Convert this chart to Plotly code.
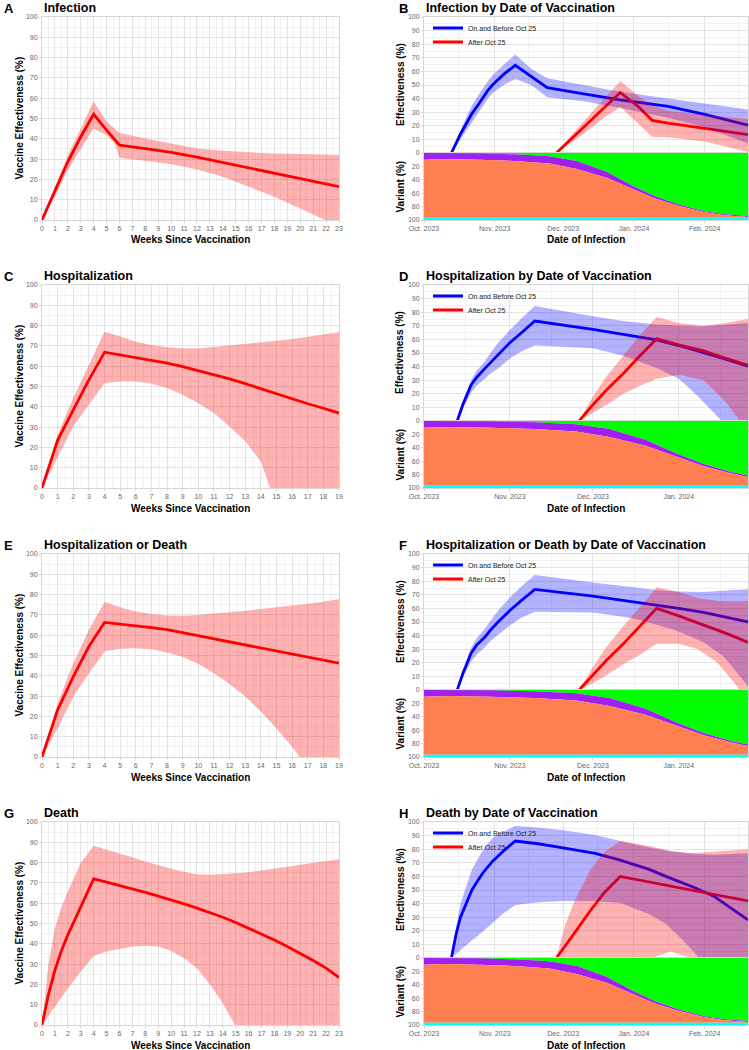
import plotly.graph_objects as go

FONT = "Liberation Sans, Arial, sans-serif"
W, H = 749, 1050

# ---------------- Left panels: weeks since vaccination ----------------
A_weeks = [0, 1, 2, 3, 4, 5, 5.6, 6, 8, 10, 12, 14, 16, 18, 20, 22, 23]
A_mid = [0, 14.8, 28.7, 41, 52.1, 44.3, 39.8, 36.9, 35.2, 33.3, 31, 28.4, 25.7, 23.1, 20.5, 17.7, 16.4]
A_hi = [0, 16.4, 32, 45, 58.5, 48.5, 45, 42.8, 40.2, 37.7, 35.2, 34.1, 33.3, 32.8, 32.5, 32.3, 32.1]
A_lo = [0, 11.5, 24.6, 35.2, 45.1, 41.8, 38, 30.5, 29.2, 27.5, 25, 21.3, 16.4, 11.5, 5.7, 0, -3.3]

C_weeks = [0, 1, 2, 3, 4, 5, 6, 7, 8, 9, 10, 11, 12, 13, 14, 15, 16, 17, 18, 19]
C_mid = [0, 23.5, 38.5, 53.3, 66.9, 65.6, 64.4, 63, 61.5, 59.8, 57.9, 55.9, 53.8, 51.4, 48.9, 46.4, 43.8, 41.5, 39.3, 36.9]
C_hi = [0, 26.2, 44.3, 60.7, 77, 74.6, 72.1, 70.5, 69.3, 68.9, 68.9, 69.5, 70.2, 70.9, 71.6, 72.5, 73.4, 74.4, 75.4, 76.7]
C_lo = [0, 14.8, 30.3, 41, 51.6, 52.5, 52.5, 51.5, 49.2, 45.9, 41.8, 36.9, 30.3, 23, 13.1, -9, -28, -50, -75, -100]

E_weeks = [0, 1, 2, 3, 4, 5, 6, 7, 8, 9, 10, 11, 12, 13, 14, 15, 16, 17, 18, 19]
E_mid = [0, 23.2, 39.6, 54.4, 66.3, 65.5, 64.6, 63.7, 62.7, 61.2, 59.7, 58.3, 56.9, 55.3, 53.6, 52.2, 50.7, 49.3, 47.9, 46.2]
E_hi = [0, 26.5, 46.2, 62.7, 76.3, 73.8, 71.7, 70.4, 69.7, 69.6, 69.9, 70.5, 71.2, 72, 72.9, 73.7, 74.5, 75.5, 76.5, 77.8]
E_lo = [0, 14.1, 29.8, 41.3, 52, 53.3, 53.6, 53.1, 51.5, 49.2, 45.9, 41.3, 36, 29.8, 22.4, 14.1, 5.1, -5, -16, -28]

G_weeks = [0, 0.5, 1, 1.5, 2, 3, 4, 5, 6, 7, 8, 9, 10, 11, 12, 13, 14, 15, 16, 17, 18, 19, 20, 21, 22, 23]
G_mid = [0, 15, 27, 36.5, 44.4, 58.4, 72, 70.4, 68.8, 67, 65.3, 63.5, 61.7, 59.7, 57.6, 55.4, 53.1, 50.5, 47.7, 44.8, 41.9, 38.7, 35.4, 31.8, 28, 23.4]
G_hi = [0, 30, 47.7, 58, 65.8, 79.8, 88.3, 86.5, 84.7, 82.6, 80.6, 78.7, 77, 75.5, 74.3, 74, 74.3, 74.8, 75.3, 76.1, 77, 78, 79, 80, 80.9, 81.7]
G_lo = [0, 4.5, 9, 13.5, 18, 26.3, 34, 36.2, 37.5, 38.7, 39.1, 38.7, 36.5, 32.9, 28, 20, 10.7, 0, -12, -26, -42, -60, -80, -100, -122, -145]

# ---------------- Right panels: date of infection ----------------
# Panel B (Infection)
B_blue_dates = ["2023-10-13", "2023-10-15", "2023-10-17", "2023-10-20", "2023-10-22", "2023-10-25", "2023-10-27",
                "2023-10-29", "2023-10-31", "2023-11-03", "2023-11-05", "2023-11-10",
                "2023-11-17", "2023-11-24", "2023-12-10", "2023-12-26", "2024-01-16", "2024-02-01", "2024-02-20"]
B_blue_mid = [0, 7.5, 14, 23, 29, 36, 41, 46, 50, 55, 58, 64.5, 56, 48, 43.5, 39, 34.3, 28.4, 20.5]
B_blue_hi = [0, 9, 17, 28, 35, 43, 48, 53, 57, 62, 65, 72.5, 62, 55, 50, 45, 40, 36.5, 32]
B_blue_lo = [0, 5, 10, 18, 23, 30, 35, 40, 44, 48, 50, 54.5, 50, 41, 38, 33, 26, 19, 7]
B_red_dates = ["2023-11-28", "2023-12-05", "2023-12-12", "2023-12-19", "2023-12-26", "2024-01-03", "2024-01-09",
               "2024-01-16", "2024-02-01", "2024-02-20"]
B_red_mid = [0, 11, 22, 33.5, 44.5, 34, 24, 22, 18, 13.5]
B_red_hi = [0, 14, 27, 40, 53, 42, 35, 31, 28, 25]
B_red_lo = [0, 8, 17, 26, 34, 21, 12, 11.5, 8.5, 0.7]

# Panel D (Hospitalization)
D_blue_dates = ["2023-10-13", "2023-10-15", "2023-10-18", "2023-10-20", "2023-10-23", "2023-10-25", "2023-10-28",
                "2023-11-01", "2023-11-05", "2023-11-10", "2023-12-01", "2023-12-12", "2023-12-24", "2024-01-01",
                "2024-01-08", "2024-01-17", "2024-01-26"]
D_blue_mid = [0, 12, 26.5, 32, 38.7, 43, 49.8, 57.6, 64.5, 73.5, 67.4, 63.5, 59.6, 55.5, 51.5, 46, 40.4]
D_blue_hi = [0, 14, 30, 37, 44, 50, 58, 67, 75, 84.5, 77, 73.5, 71, 70, 69.5, 70.5, 72]
D_blue_lo = [0, 9, 21, 26, 31, 35, 39, 46, 51, 55.5, 53.5, 48, 39, 31, 18, 0, -20]
D_red_dates = ["2023-11-26", "2023-12-01", "2023-12-06", "2023-12-12", "2023-12-18", "2023-12-24", "2024-01-01",
               "2024-01-10", "2024-01-18", "2024-01-26"]
D_red_mid = [0, 12, 23, 35, 48, 60.5, 56, 51.5, 46, 41]
D_red_hi = [0, 18, 33, 48, 63, 76.5, 72, 70, 72, 75]
D_red_lo = [0, 6, 12, 20, 26, 31, 34, 30, 14, -8]

# Panel F (Hospitalization or Death)
F_blue_dates = ["2023-10-13", "2023-10-15", "2023-10-18", "2023-10-20", "2023-10-23", "2023-10-25", "2023-10-28",
                "2023-11-01", "2023-11-05", "2023-11-10", "2023-12-01", "2023-12-15", "2023-12-24", "2024-01-01",
                "2024-01-10", "2024-01-17", "2024-01-26"]
F_blue_mid = [0, 12, 27, 33, 39, 44, 50.5, 58.5, 65.5, 74, 69, 65, 62.5, 60, 57, 54, 50]
F_blue_hi = [0, 14, 31, 38, 45, 51, 59, 68, 76, 84.5, 79, 75.5, 73.5, 72.5, 72, 73, 74]
F_blue_lo = [0, 9, 21, 26, 31.5, 36, 41, 47.5, 53, 57.5, 57, 53, 48, 43, 35, 25, 3]
F_red_dates = ["2023-11-26", "2023-12-01", "2023-12-06", "2023-12-12", "2023-12-18", "2023-12-24", "2024-01-01",
               "2024-01-08", "2024-01-15", "2024-01-22", "2024-01-26"]
F_red_mid = [0, 11, 22, 34, 47, 60, 54.5, 49.5, 44, 38.5, 35]
F_red_hi = [0, 17, 32, 47, 61, 75.5, 72, 67.5, 65.5, 65, 65.5]
F_red_lo = [0, 5, 11, 19, 26, 34, 34, 30, 20, 3, -10]

# Panel H (Death)
H_blue_dates = ["2023-10-13", "2023-10-15", "2023-10-17", "2023-10-20", "2023-10-22", "2023-10-25", "2023-10-27",
                "2023-10-31", "2023-11-05", "2023-11-10", "2023-11-20", "2023-12-01", "2023-12-15", "2023-12-26",
                "2024-01-08", "2024-01-15", "2024-01-22", "2024-01-28", "2024-02-05", "2024-02-20"]
H_blue_mid = [0, 17, 30, 42, 50, 58, 63, 71, 79, 86, 84, 81, 77, 72, 65, 60, 55.5, 51.5, 45.5, 28]
H_blue_hi = [0, 22, 40, 56, 65, 74, 80, 88, 93, 97, 96, 94, 90.5, 86, 81, 79, 77.5, 76.5, 76, 77]
H_blue_lo = [0, 3, 6, 10, 13, 17, 20, 26, 33, 39, 41, 42, 42, 40.5, 32, 25, 14, 3, -12, -50]
H_red_dates = ["2023-11-28", "2023-12-02", "2023-12-06", "2023-12-13", "2023-12-19", "2023-12-26", "2024-01-09",
               "2024-01-17", "2024-01-26", "2024-02-05", "2024-02-20"]
H_red_mid = [0, 9, 18.5, 35, 48, 60, 55.5, 53, 50, 47, 42]
H_red_hi = [0, 25, 42, 65, 78, 86, 82, 78.5, 77, 78, 80]
H_red_lo = [0, -20, -30, -28, -24, -20, 0, 4.7, 0, -20, -60]

# Variant shares (%) by date of infection
var_dates = ["2023-10-01", "2023-10-10", "2023-10-25", "2023-11-10", "2023-11-25", "2023-12-07", "2023-12-20",
             "2023-12-31", "2024-01-10", "2024-01-20", "2024-02-01", "2024-02-10", "2024-02-20"]
var_green = [0, 0, 0.5, 2, 5, 12, 28, 48, 64, 76, 87, 91.5, 94]
var_purple = [10, 9, 9.5, 10, 10.5, 12, 9, 5, 3.5, 2.5, 1.5, 1.5, 1.5]
var_orange = [86.5, 87.5, 86.5, 84.5, 81, 72.5, 59.5, 43.5, 29, 18, 8, 3.5, 1]
var_cyan = [3.5, 3.5, 3.5, 3.5, 3.5, 3.5, 3.5, 3.5, 3.5, 3.5, 3.5, 3.5, 3.5]

legend_names = ["On and Before Oct 25", "After Oct 25"]

left_panels = [
    ("A", "Infection", A_weeks, A_mid, A_lo, A_hi, 23),
    ("C", "Hospitalization", C_weeks, C_mid, C_lo, C_hi, 19),
    ("E", "Hospitalization or Death", E_weeks, E_mid, E_lo, E_hi, 19),
    ("G", "Death", G_weeks, G_mid, G_lo, G_hi, 23),
]
right_panels = [
    ("B", "Infection by Date of Vaccination",
     (B_blue_dates, B_blue_mid, B_blue_lo, B_blue_hi), (B_red_dates, B_red_mid, B_red_lo, B_red_hi), "2024-02-20"),
    ("D", "Hospitalization by Date of Vaccination",
     (D_blue_dates, D_blue_mid, D_blue_lo, D_blue_hi), (D_red_dates, D_red_mid, D_red_lo, D_red_hi), "2024-01-26"),
    ("F", "Hospitalization or Death by Date of Vaccination",
     (F_blue_dates, F_blue_mid, F_blue_lo, F_blue_hi), (F_red_dates, F_red_mid, F_red_lo, F_red_hi), "2024-01-26"),
    ("H", "Death by Date of Vaccination",
     (H_blue_dates, H_blue_mid, H_blue_lo, H_blue_hi), (H_red_dates, H_red_mid, H_red_lo, H_red_hi), "2024-02-20"),
]

# ---------------- Layout geometry (pixels) ----------------
row_top = [17, 285, 554, 822]
row_bot = [220, 488, 757, 1025]
eff_h = 136
LX0, LX1 = 42, 339
RX0, RX1 = 424, 748

BLUE = "#0000FF"
RED = "#FF0000"
BLUE_BAND = "rgba(0,0,255,0.3)"
RED_BAND = "rgba(255,0,0,0.3)"
GRID = "#e3e3e3"
MINOR = "#f1f1f1"
BORDER = "#d6d6d6"
TICKC = "#666666"


def px_x(p):
    return p / W


def px_y(p):
    return 1 - p / H


fig = go.Figure()
layout = dict(
    template="none",
    width=W, height=H, margin=dict(l=0, r=0, t=0, b=0, pad=0, autoexpand=False), autosize=False,
    paper_bgcolor="white", plot_bgcolor="white",
    font=dict(family=FONT, color="black"),
    showlegend=True,
)
annotations = []


def axis_common():
    return dict(showline=True, linecolor=BORDER, linewidth=1, mirror=True, zeroline=False, automargin=False,
                tickfont=dict(size=7, color=TICKC, family=FONT), gridcolor=GRID, gridwidth=1,
                ticks="outside", ticklen=2, tickcolor=BORDER, showgrid=True)


def add_title(letter, title, x_letter, x_title, y_center):
    annotations.append(dict(text="<b>%s</b>" % letter, x=px_x(x_letter), y=px_y(y_center), xref="paper",
                            yref="paper", xanchor="left", yanchor="middle", showarrow=False,
                            font=dict(size=13, family=FONT, color="black")))
    annotations.append(dict(text="<b>%s</b>" % title, x=px_x(x_title), y=px_y(y_center), xref="paper",
                            yref="paper", xanchor="left", yanchor="middle", showarrow=False,
                            font=dict(size=12.5, family=FONT, color="black")))


def axis_title(text, x, y, angle=0):
    annotations.append(dict(text="<b>%s</b>" % text, x=px_x(x), y=px_y(y), xref="paper", yref="paper",
                            xanchor="center", yanchor="middle", showarrow=False, textangle=angle,
                            font=dict(size=10, family=FONT, color="black")))


ax_n = 1
# ---- left panels ----
for i, (letter, title, wk, mid, lo, hi, wmax) in enumerate(left_panels):
    xa = "x%d" % ax_n if ax_n > 1 else "x"
    ya = "y%d" % ax_n if ax_n > 1 else "y"
    xkey = "xaxis%d" % ax_n if ax_n > 1 else "xaxis"
    ykey = "yaxis%d" % ax_n if ax_n > 1 else "yaxis"
    fig.add_trace(go.Scatter(x=wk, y=mid, mode="lines", line=dict(color=RED, width=2.8),
                             xaxis=xa, yaxis=ya, showlegend=False, hoverinfo="skip"))
    fig.add_trace(go.Scatter(x=wk, y=lo, mode="lines", line=dict(width=0), xaxis=xa, yaxis=ya,
                             showlegend=False, hoverinfo="skip"))
    fig.add_trace(go.Scatter(x=wk, y=hi, mode="lines", line=dict(width=0), fill="tonexty",
                             fillcolor=RED_BAND, xaxis=xa, yaxis=ya, showlegend=False, hoverinfo="skip"))
    xd = axis_common()
    xd.update(domain=[px_x(LX0), px_x(LX1)], range=[0, wmax], dtick=1, tick0=0, anchor=ya,
              minor=dict(dtick=0.5, showgrid=True, gridcolor=MINOR))
    yd = axis_common()
    yd.update(domain=[px_y(row_bot[i]), px_y(row_top[i])], range=[0, 100], dtick=10, tick0=0, anchor=xa,
              minor=dict(dtick=5, showgrid=True, gridcolor=MINOR))
    layout[xkey] = xd
    layout[ykey] = yd
    add_title(letter, title, 2, LX0, row_top[i] - 9)
    axis_title("Vaccine Effectiveness (%)", 19, (row_top[i] + row_bot[i]) / 2, -90)
    axis_title("Weeks Since Vaccination", (LX0 + LX1) / 2, row_bot[i] + 20)
    ax_n += 1

# ---- right panels ----
leg_idx = 1
for i, (letter, title, blue, red, xend) in enumerate(right_panels):
    ne, nv = ax_n, ax_n + 1
    xe, ye, xv, yv = "x%d" % ne, "y%d" % ne, "x%d" % nv, "y%d" % nv
    top, bot = row_top[i], row_bot[i]
    mid_y = top + eff_h
    bd, bm, bl, bh = blue
    rd, rm, rl, rh = red
    legs = []
    for k in range(2):
        lname = "legend" if leg_idx == 1 else "legend%d" % leg_idx
        legs.append(lname)
        layout[lname] = dict(x=px_x(428), y=px_y(top + 11 + 14 * k), xanchor="left", yanchor="middle",
                             bgcolor="rgba(0,0,0,0)", font=dict(size=7, family=FONT, color="#222"),
                             traceorder="normal", borderwidth=0)
        leg_idx += 1
    # lines first (bands are drawn over them, as in the original)
    fig.add_trace(go.Scatter(x=bd, y=bm, mode="lines", line=dict(color=BLUE, width=2.8), name=legend_names[0],
                             xaxis=xe, yaxis=ye, legend=legs[0], hoverinfo="skip"))
    fig.add_trace(go.Scatter(x=rd, y=rm, mode="lines", line=dict(color=RED, width=2.8), name=legend_names[1],
                             xaxis=xe, yaxis=ye, legend=legs[1], hoverinfo="skip"))
    fig.add_trace(go.Scatter(x=bd, y=bl, mode="lines", line=dict(width=0), xaxis=xe, yaxis=ye,
                             showlegend=False, hoverinfo="skip"))
    fig.add_trace(go.Scatter(x=bd, y=bh, mode="lines", line=dict(width=0), fill="tonexty", fillcolor=BLUE_BAND,
                             xaxis=xe, yaxis=ye, showlegend=False, hoverinfo="skip"))
    fig.add_trace(go.Scatter(x=rd, y=rl, mode="lines", line=dict(width=0), xaxis=xe, yaxis=ye,
                             showlegend=False, hoverinfo="skip"))
    fig.add_trace(go.Scatter(x=rd, y=rh, mode="lines", line=dict(width=0), fill="tonexty", fillcolor=RED_BAND,
                             xaxis=xe, yaxis=ye, showlegend=False, hoverinfo="skip"))
    # variant stacked areas
    for vals, col in [(var_green, "#00FF00"), (var_purple, "#A020F0"), (var_orange, "#FF7F50"), (var_cyan, "#00FFFF")]:
        fig.add_trace(go.Scatter(x=var_dates, y=vals, mode="lines", line=dict(width=0, color=col),
                                 stackgroup="v%d" % i, fillcolor=col, xaxis=xv, yaxis=yv, showlegend=False,
                                 hoverinfo="skip"))

    xr = ["2023-10-01", xend]
    xed = axis_common()
    xed.update(domain=[px_x(RX0), px_x(RX1)], range=xr, type="date", dtick="M1", tick0="2023-10-01",
               showticklabels=False, ticks="", anchor=ye,
               minor=dict(tickvals=["2023-10-16", "2023-11-16", "2023-12-16", "2024-01-16", "2024-02-16"],
                          showgrid=True, gridcolor=MINOR))
    yed = axis_common()
    yed.update(domain=[px_y(mid_y), px_y(top)], range=[0, 100], dtick=10, tick0=0, anchor=xe,
               minor=dict(dtick=5, showgrid=True, gridcolor=MINOR))
    xvd = axis_common()
    xvd.update(domain=[px_x(RX0), px_x(RX1)], range=xr, type="date", dtick="M1", tick0="2023-10-01",
               tickformat="%b. %Y", anchor=yv, showgrid=False)
    yvd = axis_common()
    yvd.update(domain=[px_y(bot), px_y(mid_y)], range=[100, 0], tickvals=[20, 40, 60, 80, 100], anchor=xv,
               showgrid=False)
    layout["xaxis%d" % ne] = xed
    layout["yaxis%d" % ne] = yed
    layout["xaxis%d" % nv] = xvd
    layout["yaxis%d" % nv] = yvd
    add_title(letter, title, 397, RX0, top - 9)
    axis_title("Effectiveness (%)", 400, (top + mid_y) / 2, -90)
    axis_title("Variant (%)", 400, (mid_y + bot) / 2, -90)
    axis_title("Date of Infection", (RX0 + RX1) / 2, bot + 20)
    ax_n += 2

layout["annotations"] = annotations
fig.update_layout(**layout)
fig.write_html("out.html", config={"displayModeBar": False, "staticPlot": True},
               post_script="document.body.style.margin='0';document.body.style.padding='0';"
                           "document.body.style.overflow='hidden';")
